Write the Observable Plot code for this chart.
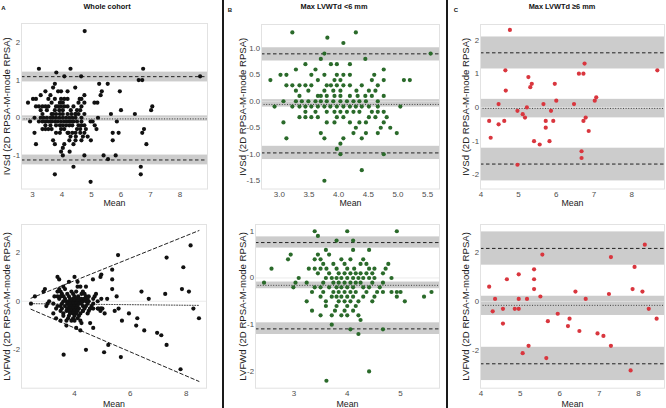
<!DOCTYPE html>
<html><head><meta charset="utf-8">
<script src="https://cdn.jsdelivr.net/npm/d3@7"></script>
<script src="https://cdn.jsdelivr.net/npm/@observablehq/plot@0.6"></script>
<style>
body{margin:0;background:#fff;font-family:"Liberation Sans",Arial,sans-serif;}
#root{position:relative;width:666px;height:408px;overflow:hidden;background:#fff;}
.p{position:absolute;}
.t{position:absolute;font-weight:bold;font-size:7.4px;color:#111;white-space:nowrap;transform:translate(-50%,-50%);}
.l{position:absolute;font-weight:bold;font-size:6px;color:#111;transform:translate(-50%,-50%);}
.sep{position:absolute;top:0;width:2px;height:408px;background:#1a1a1a;}
</style></head><body><div id="root"></div>
<script>
// ---------- DATA ----------
const titles = ["Whole cohort", "Max LVWTd <6 mm", "Max LVWTd \u22656 mm"];
const letters = ["A", "B", "C"];
const yLabels = ["IVSd (2D RPSA-M-mode RPSA)", "LVFWd (2D RPSA-M-mode RPSA)"];
const xLabel = "Mean";

// Group B (<6 mm), IVSd: difference levels and the means at each level
const bTopLevels = [1.3,1.2,1.1,0.9,0.8,0.7,0.6,0.5,0.4,0.3,0.2,0.1,0.0,-0.1,-0.2,-0.3,-0.4,-0.5,-0.6,-0.7,-0.8,-0.9,-1.0,-1.3,-1.5];
const bTopMeans = [
  [3.22,4.29],[3.81],[4.08],[3.76,5.55],[3.70,4.45],
  [3.44,3.87,3.97,4.19],
  [3.28,3.61,4.76],
  [3.02,3.12,3.54,3.76,3.97,4.08,4.19,4.60],
  [2.85,3.65,3.93,4.03,4.56,4.76,5.10,5.20],
  [3.12,3.22,3.34,3.44,3.54,3.80,3.87,3.97,4.08,4.19,4.39,4.66],
  [3.28,3.49,3.76,3.91,4.03,4.30,4.51,4.62],
  [3.34,3.65,3.70,3.80,3.93,4.03,4.19,4.32,4.45,4.56,4.76],
  [3.07,3.28,3.38,3.49,3.61,3.70,3.80,3.91,4.03,4.14,4.25,4.35,4.46,4.66],
  [2.92,3.22,3.34,3.44,3.54,3.65,3.76,3.86,3.97,4.08,4.19,4.29,4.39,4.51,4.66,5.04],
  [3.44,3.61,3.80,3.93,4.03,4.14,4.25,4.35,4.56,4.66,4.76],
  [3.34,3.44,3.54,3.65,3.97,4.08,4.51,4.62,4.81],
  [3.07,3.80,3.93,4.19,4.35,4.46,4.76],
  [4.29,4.71,4.87],
  [3.70,4.25,4.46,4.66,4.98],
  [3.12,3.76,4.08,4.39],
  [4.03],[3.97],[4.03,4.76],[4.39],[3.76]
];

// Group B (<6 mm), LVFWd
const bBotLevels = [1.0,0.9,0.8,0.6,0.5,0.4,0.3,0.2,0.1,0.0,-0.1,-0.2,-0.3,-0.4,-0.5,-0.6,-0.7,-0.8,-0.9,-1.0,-1.1,-1.2,-2.0,-2.2];
const bBotMeans = [
  [3.39,4.00,4.93],[3.45],[3.80,4.11],[3.60,4.11,4.41],[2.94,3.45,3.66],
  [2.89,3.39,3.50,3.89,4.06,4.30],
  [3.55,3.74,3.95,4.25,4.36,4.77],
  [2.58,3.28,3.39,3.50,3.61,3.80,4.00,4.13,4.41,4.51,4.72],
  [3.45,3.66,3.84,3.95,4.06,4.16,4.25,4.36,4.47,4.67],
  [3.09,3.60,3.71,3.80,3.89,4.00,4.11,4.21,4.30,4.41,4.51,4.83],
  [2.44,3.03,3.24,3.55,3.74,3.84,3.95,4.06,4.16,4.25,4.47,4.67],
  [2.99,3.39,3.50,3.66,3.80,3.89,4.00,4.11,4.30,4.41,4.61],
  [3.34,3.55,3.74,3.84,3.95,4.06,4.16,4.36,4.56,4.67,4.83,4.93,5.00,5.58],
  [3.50,3.71,3.80,3.89,4.00,4.11,4.30,4.51,4.93,5.44],
  [3.24,3.60,3.84,3.95,4.06,4.21,4.47,5.08],
  [3.60,3.80,4.00,4.16],
  [3.34,3.77,3.95,4.11],
  [3.50,3.71,3.89,4.00,4.21],
  [4.25],[3.71],[4.06,4.67],[4.21],[4.41],[3.61]
];

// Group C (>=6 mm), IVSd
const cTopMean = [4.77,4.65,5.26,5.35,5.31,4.66,5.96,6.60,6.72,6.75,8.68,4.47,4.97,5.22,5.66,6.00,6.47,7.02,7.06,4.22,4.47,4.62,5.11,5.17,5.86,5.72,5.92,5.72,4.26,5.41,5.56,5.82,4.97,6.78,6.72,6.86,6.67,6.67];
const cTopDiff = [2.3,1.1,0.9,0.7,0.6,0.5,0.7,1.0,1.0,1.3,1.1,0.1,-0.1,0.0,0.1,0.2,0.1,0.2,0.3,-0.4,-0.5,-0.4,-0.2,-0.3,-0.1,-0.4,-0.4,-0.6,-0.9,-1.0,-1.1,-1.0,-1.7,-0.3,-0.4,-0.7,-1.3,-1.5];

// Group C (>=6 mm), LVFWd
const cBotMean = [4.21,4.36,4.30,4.56,4.56,4.66,4.96,4.96,4.86,4.96,5.17,5.06,5.21,5.35,5.35,5.35,5.51,5.56,5.66,5.95,5.70,6.25,6.21,6.50,6.40,6.66,6.96,7.11,7.25,7.30,7.30,7.80,7.85,7.90,8.16,8.10,8.26,8.46];
const cBotDiff = [0.6,0.1,-0.4,-0.3,-0.9,0.9,1.1,0.1,-0.3,-0.3,0.1,-2.1,-1.8,1.3,0.9,0.5,0.2,1.9,-2.3,-0.5,-0.8,-0.7,-1.0,-1.2,0.4,0.1,-1.3,-1.4,0.3,1.8,-1.8,-2.8,0.5,1.4,2.3,0.4,-0.3,-0.7];

// Bias / upper LoA / lower LoA, and their confidence bands [hi, lo]
const aTopLines = [-0.03, 1.09, -1.12];
const aTopBands = [[0.05,-0.09],[1.21,0.95],[-0.99,-1.25]];
const bTopLines = [-0.06, 0.895, -0.975];
const bTopBands = [[0.03,-0.11],[1.01,0.76],[-0.85,-1.10]];
const cTopLines = [-0.03, 1.62, -1.68];
const cTopBands = [[0.24,-0.31],[2.09,1.14],[-1.21,-2.18]];
const bBotLines = [-0.158, 0.758, -1.09];
const bBotBands = [[-0.087,-0.23],[0.88,0.64],[-0.96,-1.21]];
const cBotLines = [-0.16, 2.15, -2.53];
const cBotBands = [[0.21,-0.57],[2.82,1.47],[-1.86,-3.21]];
// Whole cohort LVFWd: regression-based (proportional) limits, endpoints at the data range
const aBotLineMean = [2.44, 8.46];
const aBotBias = [-0.10, -0.17];
const aBotUpper = [0.124, 2.91];
const aBotLower = [-0.33, -3.30];

// tick values
const aTopXTicks = [3,4,5,6,7,8], aTopYTicks = [-1,0,1,2];
const bTopXTicks = [3.0,3.5,4.0,4.5,5.0,5.5], bTopYTicks = [-1.5,-1.0,-0.5,0.0,0.5,1.0];
const cTopXTicks = [4,5,6,7,8], cTopYTicks = [-2,-1,0,1,2];
const aBotXTicks = [4,6,8], aBotYTicks = [-2,0,2];
const bBotXTicks = [3,4,5], bBotYTicks = [-2,-1,0,1];
const cBotXTicks = [4,5,6,7,8], cBotYTicks = [-2,0,2];

const colors = ["#111111", "#2a6a2a", "#d9363e"];

// ---------- BUILD ----------
const fromLevels = (levels, means) => levels.flatMap((d, i) => means[i].map(m => ({mean: m, diff: d})));
const fromPairs = (means, diffs) => means.map((m, i) => ({mean: m, diff: diffs[i]}));
const bTop = fromLevels(bTopLevels, bTopMeans);
const bBot = fromLevels(bBotLevels, bBotMeans);
const cTop = fromPairs(cTopMean, cTopDiff);
const cBot = fromPairs(cBotMean, cBotDiff);
const aTop = bTop.concat(cTop);
const aBot = bBot.concat(cBot);
const aBotLines = {
  bias: aBotLineMean.map((m, i) => ({mean: m, v: aBotBias[i]})),
  upper: aBotLineMean.map((m, i) => ({mean: m, v: aBotUpper[i]})),
  lower: aBotLineMean.map((m, i) => ({mean: m, v: aBotLower[i]}))
};

const int = d => String(d);
const one = d => d.toFixed(1);

function panel(o) {
  const marks = [];
  if (o.bands) for (const b of o.bands) marks.push(Plot.rect([b], {y1: d => d[0], y2: d => d[1], fill: "#cccccc"}));
  marks.push(Plot.ruleY([0], {stroke: "#e4e4e4", strokeWidth: 0.8}));
  if (o.lines) {
    marks.push(Plot.ruleY([o.lines[0]], {stroke: "#444", strokeWidth: 1, strokeDasharray: "1,1.6"}));
    marks.push(Plot.ruleY([o.lines[1], o.lines[2]], {stroke: "#222", strokeWidth: 1, strokeDasharray: "3.5,2.5"}));
  }
  if (o.sloped) {
    marks.push(Plot.line(o.sloped.bias, {x: "mean", y: "v", stroke: "#444", strokeWidth: 1, strokeDasharray: "1,1.6"}));
    marks.push(Plot.line(o.sloped.upper, {x: "mean", y: "v", stroke: "#222", strokeWidth: 1, strokeDasharray: "3.5,2.5"}));
    marks.push(Plot.line(o.sloped.lower, {x: "mean", y: "v", stroke: "#222", strokeWidth: 1, strokeDasharray: "3.5,2.5"}));
  }
  marks.push(Plot.dot(o.data, {x: "mean", y: "diff", r: 2.1, fill: o.color, stroke: null}));
  marks.push(Plot.frame({stroke: "#e2e2e2"}));
  marks.push(Plot.axisX(o.xTicks, {tickSize: 0, tickPadding: 2, tickFormat: o.fx, label: null, fill: "#4d4d4d", fontSize: 8}));
  marks.push(Plot.axisY(o.yTicks, {tickSize: 0, tickPadding: 1.5, tickFormat: o.fy, label: null, fill: "#4d4d4d", fontSize: 7.8}));
  marks.push(Plot.text([o.yLabel], {frameAnchor: "left", textAnchor: "middle", dx: o.ydx, rotate: -90, fontSize: 9.6, fill: "#222"}));
  marks.push(Plot.text([xLabel], {frameAnchor: "bottom", textAnchor: "middle", dy: o.xdy, fontSize: 8.8, fill: "#222", lineAnchor: "middle"}));
  const svg = Plot.plot({
    width: o.w, height: o.h,
    marginLeft: o.mL, marginRight: o.mR, marginTop: o.mT, marginBottom: o.mB,
    x: {domain: o.xd, label: null},
    y: {domain: o.yd, label: null},
    style: {fontFamily: "Liberation Sans, Arial, sans-serif", background: "transparent", overflow: "visible"},
    marks
  });
  svg.classList.add("p");
  svg.style.left = o.left + "px";
  svg.style.top = o.top + "px";
  document.getElementById("root").appendChild(svg);
}

const T = {top: 0, h: 206, mT: 24, mB: 17.5, xdy: 14};
const B = {top: 206, h: 202, mT: 18, mB: 20.3, xdy: 16};

panel({...T, data: aTop, color: colors[0], left: 0, w: 222, mL: 21, mR: 15, mT: 23,
  xd: [2.63, 8.93], yd: [-1.89, 2.50], xTicks: aTopXTicks, yTicks: aTopYTicks, fx: int, fy: int,
  lines: aTopLines, bands: aTopBands, yLabel: yLabels[0], ydx: -15});
panel({...T, data: bTop, color: colors[1], left: 225, w: 220, mL: 36, mR: 6,
  xd: [2.70, 5.70], yd: [-1.656, 1.449], xTicks: bTopXTicks, yTicks: bTopYTicks, fx: one, fy: one,
  lines: bTopLines, bands: bTopBands, yLabel: yLabels[0], ydx: -19});
panel({...T, data: cTop, color: colors[2], left: 449, w: 217, mL: 31, mR: 2,
  xd: [3.99, 8.87], yd: [-2.42, 2.46], xTicks: cTopXTicks, yTicks: cTopYTicks, fx: int, fy: int,
  lines: cTopLines, bands: cTopBands, yLabel: yLabels[0], ydx: -15});

panel({...B, data: aBot, color: colors[0], left: 0, w: 222, mL: 21, mR: 16,
  xd: [2.10, 8.73], yd: [-3.58, 3.16], xTicks: aBotXTicks, yTicks: aBotYTicks, fx: int, fy: int,
  sloped: aBotLines, yLabel: yLabels[1], ydx: -15});
panel({...B, data: bBot, color: colors[1], left: 225, w: 220, mL: 30, mR: 6,
  xd: [2.28, 5.73], yd: [-2.36, 1.145], xTicks: bBotXTicks, yTicks: bBotYTicks, fx: int, fy: int,
  lines: bBotLines, bands: bBotBands, yLabel: yLabels[1], ydx: -13});
panel({...B, data: cBot, color: colors[2], left: 449, w: 217, mL: 31, mR: 2,
  xd: [3.99, 8.66], yd: [-3.52, 3.12], xTicks: cBotXTicks, yTicks: cBotYTicks, fx: int, fy: int,
  lines: cBotLines, bands: cBotBands, yLabel: yLabels[1], ydx: -15});

// titles, letters, separators
const root = document.getElementById("root");
const titleX = [107, 334, 562], letterX = [3.5, 230, 456], letterY = [8.3, 10, 10];
titles.forEach((t, i) => {
  const d = document.createElement("div"); d.className = "t"; d.textContent = t;
  d.style.left = titleX[i] + "px"; d.style.top = "6px"; root.appendChild(d);
  const l = document.createElement("div"); l.className = "l"; l.textContent = letters[i];
  l.style.left = letterX[i] + "px"; l.style.top = letterY[i] + "px"; root.appendChild(l);
});
[222, 446].forEach(x => {
  const s = document.createElement("div"); s.className = "sep"; s.style.left = x + "px"; root.appendChild(s);
});
</script>
</body></html>
